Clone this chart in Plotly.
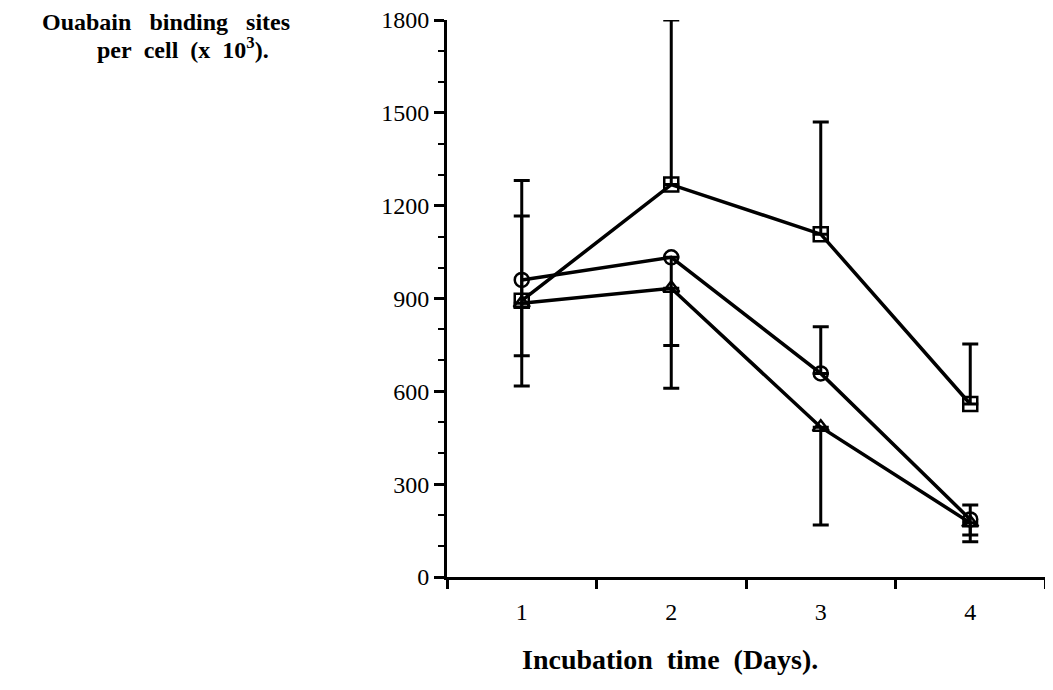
import plotly.graph_objects as go

days = [1, 2, 3, 4]

circle_vals = [960, 1033, 658, 186]
circle_err_up = [321, 0, 151, 47]
circle_err_down = [343, 285, 0, 50]

triangle_vals = [885, 933, 484, 175]
triangle_err_up = [0, 0, 0, 0]
triangle_err_down = [0, 323, 316, 61]

square_vals = [893, 1268, 1108, 559]
square_err_up = [274, 532, 362, 194]
square_err_down = [178, 0, 0, 0]

y_ticks = [0, 300, 600, 900, 1200, 1500, 1800]
x_ticks = [1, 2, 3, 4]

SERIF = "Liberation Serif, Times New Roman, serif"
NB = "\u00a0"

fig = go.Figure()

def add_series(vals, up, down, symbol):
    fig.add_trace(go.Scatter(
        x=days, y=vals, mode="lines+markers",
        line=dict(color="black", width=3.5),
        marker=dict(symbol=symbol, size=14, color="black",
                    line=dict(color="black", width=2.5)),
        error_y=dict(type="data", symmetric=False, array=up, arrayminus=down,
                     color="black", thickness=3, width=8),
        cliponaxis=False, showlegend=False,
    ))

add_series(square_vals, square_err_up, square_err_down, "square-open")
add_series(triangle_vals, triangle_err_up, triangle_err_down, "triangle-up-open")
add_series(circle_vals, circle_err_up, circle_err_down, "circle-open")

# page body has an 8px default margin: figure is sized/offset to compensate
fig.update_layout(
    width=1045, height=682,
    margin=dict(l=439, r=8, t=12, b=113, autoexpand=False),
    paper_bgcolor="white", plot_bgcolor="white",
    font=dict(family=SERIF, color="black"),
    xaxis=dict(
        range=[0.5, 4.5], showgrid=False, zeroline=False,
        showline=True, linecolor="black", linewidth=3,
        tickmode="array", tickvals=x_ticks, ticktext=[str(v) for v in x_ticks],
        ticks="", ticklabelstandoff=11,
        tickfont=dict(size=24, family=SERIF),
        minor=dict(tick0=0.5, dtick=1, ticks="outside", ticklen=9,
                   tickwidth=3, tickcolor="black", showgrid=False),
    ),
    yaxis=dict(
        range=[0, 1800], showgrid=False, zeroline=False,
        showline=True, linecolor="black", linewidth=3,
        tickmode="array", tickvals=y_ticks,
        ticks="outside", ticklen=10, tickwidth=3, tickcolor="black",
        ticklabelstandoff=0, ticklabeloverflow="allow",
        tickfont=dict(size=24, family=SERIF),
        minor=dict(dtick=100, ticks="outside", ticklen=6,
                   tickwidth=2, tickcolor="black", showgrid=False),
    ),
    annotations=[
        dict(text="<b>Ouabain" + NB * 3 + "binding" + NB * 3 + "sites</b>",
             xref="paper", yref="paper", x=-0.470, y=0.996,
             xanchor="center", yanchor="middle", showarrow=False,
             font=dict(size=24, family=SERIF, color="black")),
        dict(text="<b>per" + NB * 2 + "cell" + NB * 2 + "(x" + NB * 2 + "10<sup>3</sup>).</b>",
             xref="paper", yref="paper", x=-0.441, y=0.950,
             xanchor="center", yanchor="middle", showarrow=False,
             font=dict(size=24, family=SERIF, color="black")),
        dict(text="<b>Incubation" + NB * 2 + "time" + NB * 2 + "(Days).</b>",
             xref="paper", yref="paper", x=0.373, y=-0.149,
             xanchor="center", yanchor="middle", showarrow=False,
             font=dict(size=28, family=SERIF, color="black")),
    ],
)

fig.write_html("out.html")
